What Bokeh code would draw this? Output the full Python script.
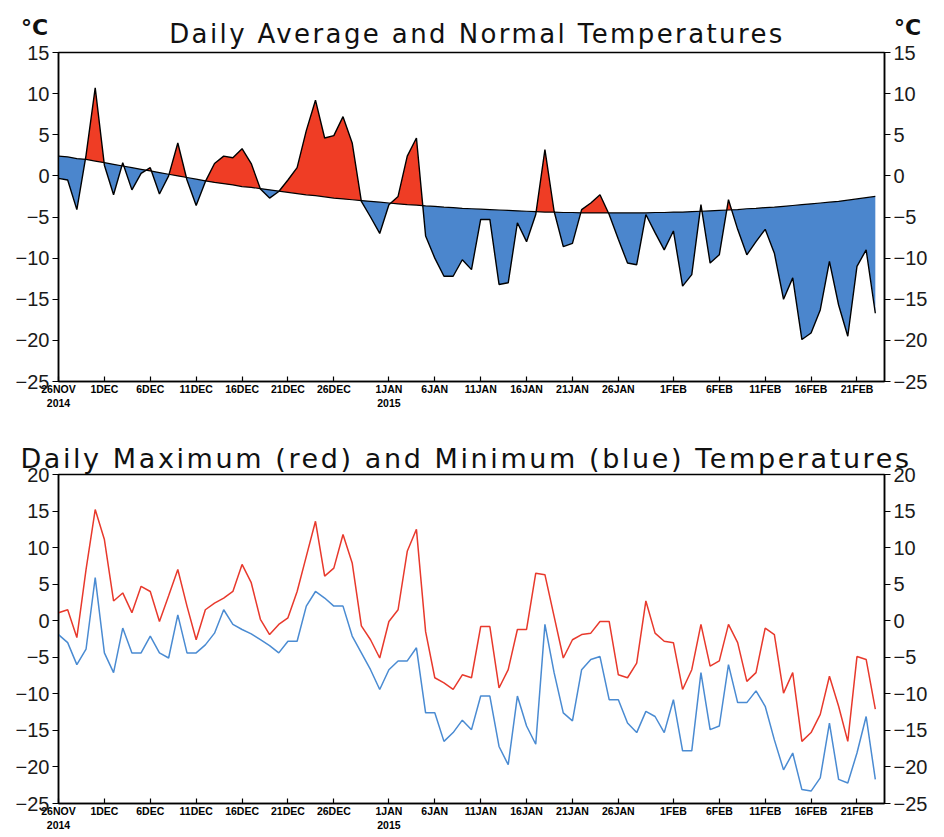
from bokeh.plotting import figure
from bokeh.models import Range1d, FixedTicker, LinearAxis, Div
from bokeh.layouts import column
from bokeh.embed import file_html
from bokeh.resources import INLINE
import numpy as np

# ---- data (day 0 = 26 Nov 2014) ----
days = list(range(90))

avg_temp = [-0.3, -0.5, -4.1, 2.5, 10.7, 1.3, -2.3, 1.6, -1.7, 0.3,
            1.0, -2.2, 0.0, 4.0, -0.5, -3.6, -0.7, 1.5, 2.4, 2.2,
            3.3, 1.5, -1.6, -2.7, -1.9, -0.5, 1.0, 5.5, 9.2, 4.6,
            4.9, 7.2, 4.0, -3.1, -5.0, -7.0, -3.5, -2.5, 2.4, 4.6,
            -7.3, -10.0, -12.2, -12.2, -10.2, -11.4, -5.3, -5.3, -13.2, -13.0,
            -5.7, -8.0, -4.7, 3.2, -4.3, -8.6, -8.2, -4.1, -3.3, -2.3,
            -4.7, -7.7, -10.6, -10.8, -4.7, -6.9, -9.0, -6.7, -13.4, -12.0,
            -3.5, -10.6, -9.6, -2.9, -6.5, -9.6, -8.0, -6.5, -9.4, -15.0,
            -12.4, -19.9, -19.1, -16.3, -10.4, -15.7, -19.5, -11.0, -9.0, -16.7]

normal_temp = [2.4, 2.3, 2.1, 2.0, 1.8, 1.6, 1.4, 1.2, 1.0, 0.8,
               0.6, 0.4, 0.2, 0.0, -0.2, -0.4, -0.6, -0.8, -0.95, -1.1,
               -1.3, -1.4, -1.55, -1.7, -1.85, -2.0, -2.15, -2.3, -2.4, -2.55,
               -2.7, -2.8, -2.9, -3.0, -3.1, -3.2, -3.3, -3.4, -3.5, -3.55,
               -3.65, -3.7, -3.8, -3.85, -3.95, -4.0, -4.05, -4.1, -4.15, -4.2,
               -4.25, -4.3, -4.35, -4.4, -4.4, -4.45, -4.45, -4.5, -4.5, -4.5,
               -4.5, -4.5, -4.5, -4.5, -4.5, -4.45, -4.45, -4.4, -4.4, -4.35,
               -4.3, -4.25, -4.2, -4.15, -4.1, -4.0, -3.95, -3.85, -3.8, -3.7,
               -3.6, -3.5, -3.4, -3.3, -3.2, -3.1, -2.95, -2.8, -2.65, -2.5]

max_temp = [1.1, 1.5, -2.3, 7.0, 15.2, 11.1, 2.7, 3.8, 1.1, 4.7,
            4.0, -0.1, 3.4, 7.0, 2.0, -2.6, 1.5, 2.4, 3.1, 4.0,
            7.7, 5.2, 0.2, -1.9, -0.5, 0.4, 4.0, 8.8, 13.6, 6.1,
            7.2, 11.8, 7.9, -0.7, -2.6, -5.1, -0.1, 1.5, 9.5, 12.5,
            -1.5, -7.8, -8.5, -9.4, -7.4, -7.8, -0.8, -0.8, -9.2, -6.7,
            -1.2, -1.2, 6.5, 6.3, 0.6, -5.1, -2.6, -1.9, -1.7, -0.1,
            -0.1, -7.4, -7.8, -5.8, 2.7, -1.7, -2.8, -3.0, -9.4, -6.7,
            -0.5, -6.2, -5.5, -0.5, -3.0, -8.3, -7.1, -1.0, -1.9, -9.9,
            -7.1, -16.5, -15.3, -12.8, -7.6, -11.7, -16.5, -4.9, -5.3, -12.1]

min_temp = [-1.9, -3.0, -6.0, -3.9, 5.9, -4.4, -7.1, -1.0, -4.4, -4.4,
            -2.1, -4.4, -5.1, 0.8, -4.4, -4.4, -3.3, -1.7, 1.5, -0.5,
            -1.2, -1.8, -2.6, -3.4, -4.4, -2.8, -2.8, 2.0, 4.0, 3.1,
            2.0, 2.0, -2.1, -4.4, -6.7, -9.4, -6.7, -5.5, -5.5, -3.7,
            -12.6, -12.6, -16.5, -15.3, -13.6, -14.9, -10.3, -10.3, -17.2, -19.7,
            -10.3, -14.4, -16.9, -0.5, -7.1, -12.6, -13.7, -6.7, -5.3, -4.9,
            -10.8, -10.8, -14.0, -15.3, -12.4, -13.1, -15.3, -10.8, -17.8, -17.8,
            -7.1, -14.9, -14.4, -6.0, -11.2, -11.2, -9.6, -11.7, -16.3, -20.4,
            -18.1, -23.1, -23.3, -21.5, -14.0, -21.7, -22.2, -18.1, -13.1, -21.7]

tick_days = [0, 5, 10, 15, 20, 25, 30, 36, 41, 46, 51, 56, 61, 67, 72, 77, 82, 87]
tick_labels = ["26NOV\n2014", "1DEC", "6DEC", "11DEC", "16DEC", "21DEC", "26DEC",
               "1JAN\n2015", "6JAN", "11JAN", "16JAN", "21JAN", "26JAN",
               "1FEB", "6FEB", "11FEB", "16FEB", "21FEB"]
top_yticks = [15, 10, 5, 0, -5, -10, -15, -20, -25]
bot_yticks = [20, 15, 10, 5, 0, -5, -10, -15, -20, -25]
top_title = "Daily Average and Normal Temperatures"
bot_title = "Daily Maximum (red) and Minimum (blue) Temperatures"
unit_text = "\u00b0C"

RED_FILL = "#ef3d25"
BLUE_FILL = "#4b86cd"
RED_LINE = "#e8392c"
BLUE_LINE = "#4a8bd2"
TICK_FONT = "Liberation Sans"
TITLE_FONT = "DejaVu Sans"


def ylabels(ticks):
    return {t: str(t).replace("-", "\u2212") for t in ticks}


def style(p, yticks):
    p.outline_line_color = "black"
    p.outline_line_width = 1.5
    p.border_fill_color = None
    p.background_fill_color = "white"
    p.xgrid.visible = False
    p.ygrid.visible = False
    xa = p.xaxis[0]
    xa.ticker = FixedTicker(ticks=tick_days)
    xa.major_label_overrides = {d: l for d, l in zip(tick_days, tick_labels)}
    xa.major_tick_in = 5
    xa.major_tick_out = 0
    xa.minor_tick_line_color = None
    xa.major_label_standoff = 1
    xa.major_label_text_font = TICK_FONT
    xa.major_label_text_font_style = "bold"
    xa.major_label_text_font_size = "10.5px"
    xa.major_label_text_color = "black"
    xa.axis_line_width = 1.5
    ya = p.yaxis[0]
    right = LinearAxis()
    p.add_layout(right, "right")
    for ax in (ya, right):
        ax.ticker = FixedTicker(ticks=yticks)
        ax.major_label_overrides = ylabels(yticks)
        ax.major_tick_in = 0
        ax.major_tick_out = 6
        ax.minor_tick_line_color = None
        ax.major_label_standoff = 3
        ax.major_label_text_font = TICK_FONT
        ax.major_label_text_font_size = "20px"
        ax.major_label_text_color = "#1a1a1a"
        ax.axis_line_width = 1.5
    for ax in (xa, ya, right):
        ax.axis_line_color = "black"
        ax.major_tick_line_color = "black"
        ax.major_tick_line_width = 1.2


def span(text, left, top, size, extra=""):
    return ('<span style="position:absolute;left:%dpx;top:%dpx;font-size:%s;'
            'white-space:nowrap;%s">%s</span>' % (left, top, size, extra, text))


# ---- header of the top panel (title and unit labels) ----
header_html = (
    '<div style="position:relative;width:928px;height:40px;overflow:visible;'
    'font-family:\'DejaVu Sans\';color:#111;">'
    + span(unit_text, 21, 12, "22px", "font-weight:bold;")
    + span(top_title, 0, 16, "26px",
           "width:954px;text-align:center;letter-spacing:2.4px;")
    + span(unit_text, 894, 12, "22px", "font-weight:bold;")
    + '</div>'
)
header = Div(text=header_html, width=928, height=40, margin=(0, 0, 0, 0),
             styles={"overflow": "visible"})

# ---- top panel ----
p1 = figure(frame_width=826, frame_height=329, x_range=Range1d(0, 90),
            y_range=Range1d(-25, 15), output_backend="svg", toolbar_location=None,
            min_border_left=54, min_border_right=48, min_border_top=12,
            min_border_bottom=36)
style(p1, top_yticks)

xs, ya_, yn_ = [], [], []
n = len(days)
for i in range(n):
    xs.append(days[i]); ya_.append(avg_temp[i]); yn_.append(normal_temp[i])
    if i < n - 1:
        d0 = avg_temp[i] - normal_temp[i]
        d1 = avg_temp[i + 1] - normal_temp[i + 1]
        if d0 * d1 < 0:
            t = d0 / (d0 - d1)
            xc = days[i] + t * (days[i + 1] - days[i])
            yc = normal_temp[i] + t * (normal_temp[i + 1] - normal_temp[i])
            xs.append(xc); ya_.append(yc); yn_.append(yc)
ya_ = np.array(ya_); yn_ = np.array(yn_)
p1.varea(x=xs, y1=yn_, y2=np.maximum(ya_, yn_), fill_color=RED_FILL)
p1.varea(x=xs, y1=np.minimum(ya_, yn_), y2=yn_, fill_color=BLUE_FILL)
p1.line(days, normal_temp, line_color="black", line_width=1.2)
p1.line(days, avg_temp, line_color="black", line_width=1.4)

# ---- title of the bottom panel ----
mid_html = (
    '<div style="position:relative;width:928px;height:45px;overflow:visible;'
    'font-family:\'DejaVu Sans\';color:#111;">'
    + span(bot_title, 0, 23, "27px",
           "width:932px;text-align:center;letter-spacing:2.6px;")
    + '</div>'
)
mid = Div(text=mid_html, width=928, height=45, margin=(0, 0, 0, 0),
          styles={"overflow": "visible"})

# ---- bottom panel ----
p2 = figure(frame_width=826, frame_height=329, x_range=Range1d(0, 90),
            y_range=Range1d(-25, 20), output_backend="svg", toolbar_location=None,
            min_border_left=58, min_border_right=44, min_border_top=12,
            min_border_bottom=25)
style(p2, bot_yticks)
p2.line(days, max_temp, line_color=RED_LINE, line_width=1.5)
p2.line(days, min_temp, line_color=BLUE_LINE, line_width=1.5)

layout = column(header, p1, mid, p2, spacing=0)
open("out.html", "w").write(file_html(layout, INLINE))
